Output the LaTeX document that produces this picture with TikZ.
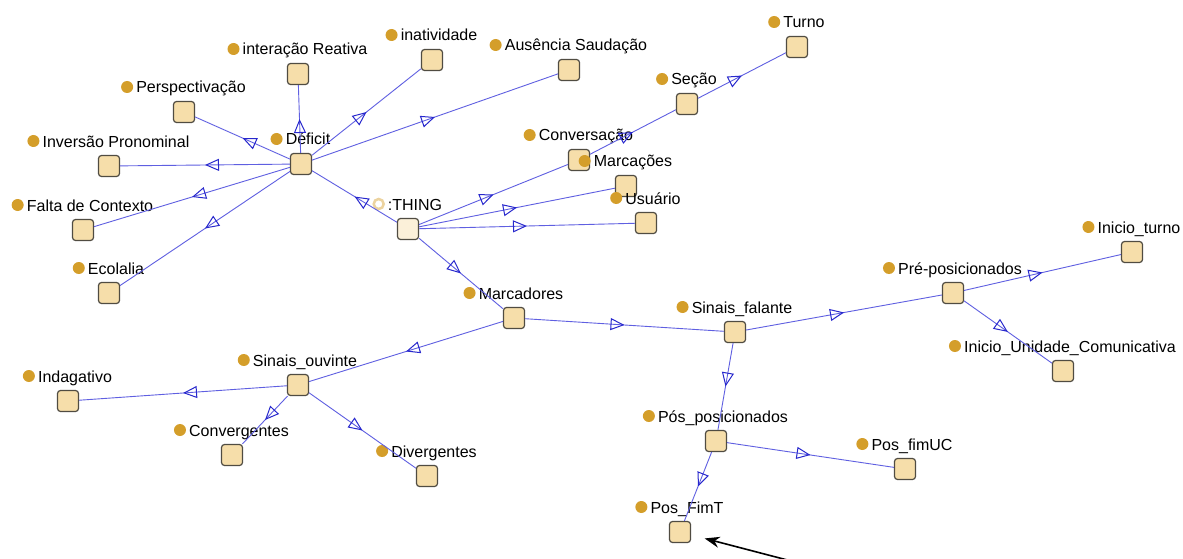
\documentclass[tikz,border=0pt]{standalone}
\usepackage{fontspec}
\setmainfont{Liberation Sans}
\usepackage{xcolor}
\usetikzlibrary{arrows.meta,positioning,decorations.markings}

\definecolor{boxfill}{RGB}{246,222,170}
\definecolor{boxdraw}{RGB}{80,76,66}
\definecolor{dotgold}{RGB}{212,158,42}
\definecolor{edgeblue}{RGB}{95,95,225}
\definecolor{tipblue}{RGB}{40,40,205}

% one ontology class: box, label and dot above it
\newcommand{\owlclass}[4]{%
  \node[clsbox] (#1) at (#2,#3) {};
  \node[clslabel] (#1-lbl) at ([xshift=7pt,yshift=19pt]#1.center) {#4};
  \node[clsdot] (#1-dot) at ([xshift=-9pt,yshift=6pt]#1-lbl.base west) {};
}

\begin{document}
\begin{tikzpicture}[x=1pt,y=-1pt,
    clsbox/.style={rectangle,rounded corners=3pt,draw=boxdraw,fill=boxfill,line width=1.2pt,minimum size=21pt,inner sep=0pt},
    clslabel/.style={anchor=base,inner sep=0pt,font=\fontsize{16}{19}\selectfont},
    clsdot/.style={circle,fill=dotgold,minimum size=12pt,inner sep=0pt},
    isa/.style={draw=edgeblue,line width=0.9pt,postaction={decorate},
      decoration={markings,mark=at position 0.5 with {\arrow[tipblue,line width=1pt]{Triangle[open,length=14pt,width=12pt]}}}},
    pointer/.style={-{Stealth[length=15pt,width=11pt]},line width=1.6pt,black}]

  \fill[white] (0,0) rectangle (1183,559);
  \useasboundingbox (0,0) rectangle (1183,559);

  % root
  \node[clsbox,fill=boxfill!45] (thing) at (408,229) {};
  \node[clslabel] (thing-lbl) at ([xshift=7pt,yshift=19pt]thing.center) {:THING};
  \node[clsdot,fill=white,draw=dotgold!45,line width=2.5pt,minimum size=10pt] (thing-dot) at ([xshift=-9pt,yshift=6pt]thing-lbl.base west) {};

  % Deficit branch
  \owlclass{deficit}{301}{164}{Déficit}
  \owlclass{intreativa}{298}{74}{interação Reativa}
  \owlclass{inatividade}{432}{60}{inatividade}
  \owlclass{ausencia}{569}{70}{Ausência Saudação}
  \owlclass{perspect}{184}{112}{Perspectivação}
  \owlclass{inversao}{109}{166}{Inversão Pronominal}
  \owlclass{falta}{83}{230}{Falta de Contexto}
  \owlclass{ecolalia}{109}{293}{Ecolalia}

  % other top classes
  \owlclass{conversa}{579}{160}{Conversação}
  \owlclass{secao}{687}{104}{Seção}
  \owlclass{turno}{797}{47}{Turno}
  \owlclass{marcacoes}{626}{186}{Marcações}
  \owlclass{usuario}{646}{223}{Usuário}

  % Marcadores branch
  \owlclass{marcadores}{514}{318}{Marcadores}
  \owlclass{sfalante}{735}{332}{Sinais\_falante}
  \owlclass{prepos}{953}{293}{Pré-posicionados}
  \owlclass{initurno}{1132}{252}{Inicio\_turno}
  \owlclass{iniuc}{1063}{371}{Inicio\_Unidade\_Comunicativa}
  \owlclass{pospos}{716}{441}{Pós\_posicionados}
  \owlclass{posfimuc}{905}{469}{Pos\_fimUC}
  \owlclass{posfimt}{680}{532}{Pos\_FimT}
  \owlclass{souvinte}{298}{385}{Sinais\_ouvinte}
  \owlclass{indagativo}{68}{401}{Indagativo}
  \owlclass{converg}{232}{455}{Convergentes}
  \owlclass{diverg}{427}{476}{Divergentes}

  % subclass edges
  \foreach \kid in {deficit,conversa,marcacoes,usuario,marcadores}
    \draw[isa] (thing) -- (\kid);
  \foreach \kid in {intreativa,inatividade,ausencia,perspect,inversao,falta,ecolalia}
    \draw[isa] (deficit) -- (\kid);
  \draw[isa] (conversa) -- (secao);
  \draw[isa] (secao) -- (turno);
  \draw[isa] (marcadores) -- (sfalante);
  \draw[isa] (marcadores) -- (souvinte);
  \draw[isa] (sfalante) -- (prepos);
  \draw[isa] (sfalante) -- (pospos);
  \draw[isa] (prepos) -- (initurno);
  \draw[isa] (prepos) -- (iniuc);
  \draw[isa] (pospos) -- (posfimuc);
  \draw[isa] (pospos) -- (posfimt);
  \foreach \kid in {indagativo,converg,diverg}
    \draw[isa] (souvinte) -- (\kid);

  % pointer to Pos_FimT
  \coordinate (note) at (795,562);
  \draw[pointer,shorten >=14pt] (note) -- (posfimt);
\end{tikzpicture}
\end{document}
